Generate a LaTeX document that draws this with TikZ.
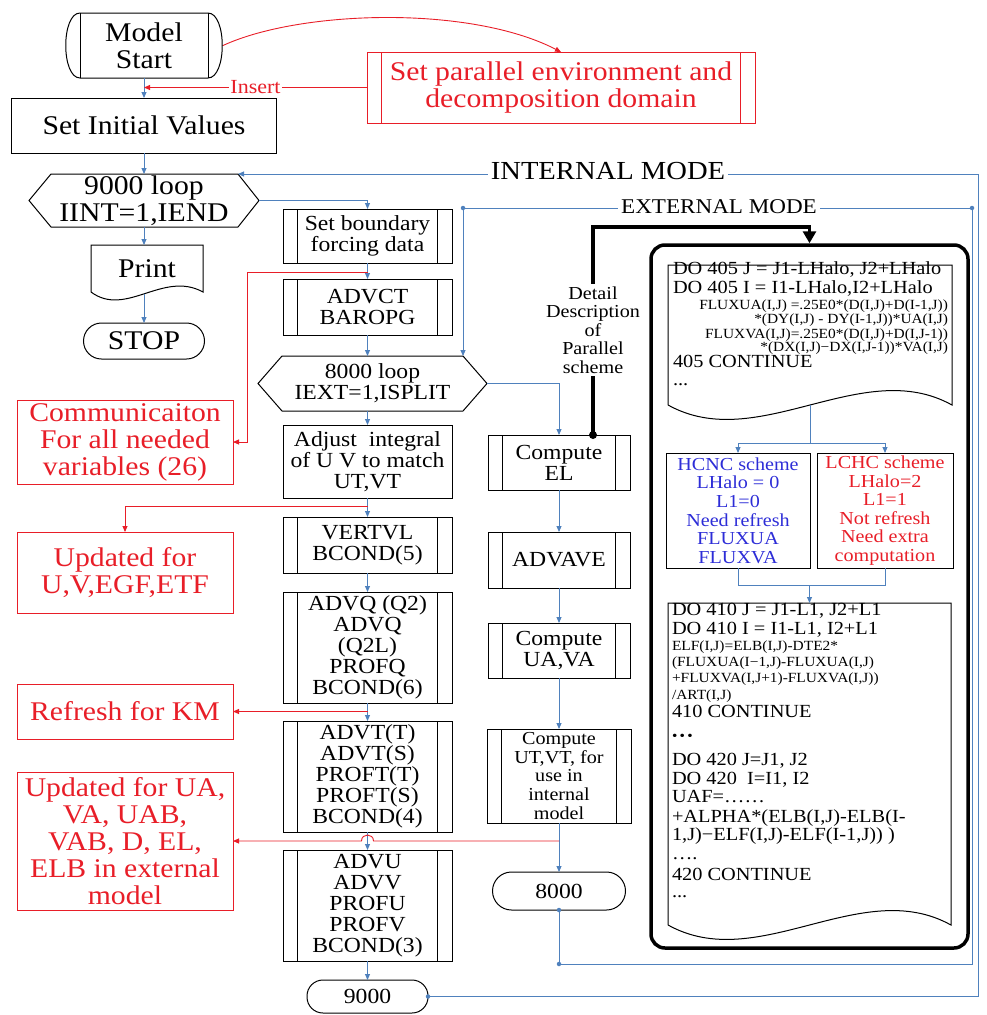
\documentclass[tikz,border=0pt]{standalone}
\usepackage{fontspec}
\setmainfont{Liberation Serif}[FakeStretch=1.1]
\usetikzlibrary{arrows.meta,calc}
\definecolor{lblue}{RGB}{79,129,189}
\definecolor{myred}{RGB}{232,30,40}
\definecolor{tblue}{RGB}{45,45,215}
\newcommand{\szA}{\fontsize{27}{27}\selectfont}
\newcommand{\szB}{\fontsize{21.5}{21}\selectfont}
\newcommand{\szC}{\fontsize{18.3}{18.6}\selectfont}
\newcommand{\szD}{\fontsize{18.5}{18.5}\selectfont}
\newcommand{\szE}{\fontsize{14}{14}\selectfont}
\newcommand{\szF}{\fontsize{20}{20}\selectfont}
\newcommand{\szG}{\fontsize{21}{21}\selectfont}
\newcommand{\szH}{\fontsize{26}{26}\selectfont}
\tikzset{
 txt/.style={align=center,inner sep=0pt,outer sep=0pt},
 box/.style={txt,draw,line width=1pt},
 pbox/.style={box,path picture={
   \draw[line width=1pt,draw=#1] ([xshift=14.5pt]path picture bounding box.north west) -- ([xshift=14.5pt]path picture bounding box.south west);
   \draw[line width=1pt,draw=#1] ([xshift=-14.5pt]path picture bounding box.north east) -- ([xshift=-14.5pt]path picture bounding box.south east);}},
 pbox/.default=black,
 term/.style={box,rounded corners=16pt},
 rbox/.style={txt,draw=myred,line width=1pt,text=myred,font=\szA},
 ln/.style={draw=lblue,line width=0.9pt},
 arr/.style={ln,-{Triangle[length=6pt,width=5pt]}},
 rln/.style={draw=myred,line width=0.9pt},
 rarr/.style={rln,-{Triangle[length=6pt,width=5pt]}},
 bdot/.style={circle,fill=lblue,inner sep=0pt,minimum size=4.5pt},
 code/.style={inner sep=0pt,outer sep=0pt,font=\szD},
 codes/.style={inner sep=0pt,outer sep=0pt,font=\szE},
}
\begin{document}
\begin{tikzpicture}[x=1pt,y=-1pt]
\useasboundingbox (0,0) rectangle (987,1015);

% ---------- left column ----------
\node[txt,font=\szA,minimum width=128pt,minimum height=65pt] (mstart) at (144,45.5) {Model\\Start};
\draw[line width=1pt] (mstart.north west) -- (mstart.north east)
  .. controls ($(mstart.north east)+(19,0)$) and ($(mstart.south east)+(19,0)$) .. (mstart.south east)
  -- (mstart.south west)
  .. controls ($(mstart.south west)+(-19,0)$) and ($(mstart.north west)+(-19,0)$) .. cycle;
\draw[line width=1pt] (mstart.north west) -- (mstart.south west) (mstart.north east) -- (mstart.south east);

\node[box,font=\szA,minimum width=265pt,minimum height=55pt] (setinit) at (144,125.5) {Set Initial Values};

\node[txt,font=\szA,minimum width=230pt,minimum height=53pt] (loop9) at (144,200.5) {9000 loop\\IINT=1,IEND};
\draw[line width=1pt] ([xshift=22pt]loop9.north west) -- ([xshift=-21pt]loop9.north east) -- (loop9.east)
  -- ([xshift=-21pt]loop9.south east) -- ([xshift=22pt]loop9.south west) -- (loop9.west) -- cycle;

\node[txt,font=\szA,minimum width=112pt,minimum height=47pt] (print) at (147,268.5) {Print};
\draw[line width=1pt] (print.south west) -- (print.north west) -- (print.north east) -- (print.south east)
  .. controls ($(print.south east)+(-40,-22)$) and ($(print.south west)+(35,26)$) .. (print.south west);
\coordinate (printb) at (144,294);

\node[term,font=\szA,minimum width=121pt,minimum height=36pt,rounded corners=18pt] (stop) at (144,341) {STOP};

% ---------- top red box ----------
\node[pbox=myred,rbox,minimum width=388pt,minimum height=71pt] (setpar) at (561,87.5) {Set parallel environment and\\decomposition domain};

% ---------- middle column ----------
\node[pbox,font=\szB,minimum width=169pt,minimum height=54pt] (setbnd) at (367.5,236) {Set boundary\\forcing data};
\node[pbox,font=\szB,minimum width=169pt,minimum height=56pt] (advct) at (367.5,307) {ADVCT\\BAROPG};
\node[txt,font=\szB,minimum width=229pt,minimum height=55pt] (loop8) at (372.5,383.5) {8000 loop\\IEXT=1,ISPLIT};
\draw[line width=1pt] ([xshift=24pt]loop8.north west) -- ([xshift=-24pt]loop8.north east) -- (loop8.east)
  -- ([xshift=-24pt]loop8.south east) -- ([xshift=24pt]loop8.south west) -- (loop8.west) -- cycle;
\node[box,font=\szB,minimum width=169pt,minimum height=73pt] (adjust) at (367.5,461.5) {Adjust\ \ integral\\of U V to match\\UT,VT};
\node[pbox,font=\szB,minimum width=169pt,minimum height=56pt] (vertvl) at (367.5,545) {VERTVL\\BCOND(5)};
\node[pbox,font=\szB,minimum width=169pt,minimum height=111pt] (advq) at (367.5,647.5) {ADVQ (Q2)\\ADVQ\\(Q2L)\\PROFQ\\BCOND(6)};
\node[pbox,font=\szB,minimum width=169pt,minimum height=111pt] (advt) at (367.5,776.5) {ADVT(T)\\ADVT(S)\\PROFT(T)\\PROFT(S)\\BCOND(4)};
\node[pbox,font=\szB,minimum width=169pt,minimum height=111pt] (advu) at (367.5,905.5) {ADVU\\ADVV\\PROFU\\PROFV\\BCOND(3)};
\node[term,font=\szB,minimum width=121pt,minimum height=33pt] (end9) at (367.5,996.5) {9000};

% ---------- right column ----------
\node[pbox,font=\szB,minimum width=142pt,minimum height=55pt] (computeel) at (559,462.5) {Compute\\EL};
\node[pbox,font=\szB,minimum width=142pt,minimum height=56pt] (advave) at (559,560) {ADVAVE};
\node[pbox,font=\szB,minimum width=142pt,minimum height=55pt] (uava) at (559,650.5) {Compute\\UA,VA};
\node[pbox,font=\szC,minimum width=144pt,minimum height=94pt] (utvt) at (559,776) {Compute\\UT,VT, for\\use in\\internal\\model};
\node[term,font=\szB,minimum width=133pt,minimum height=38pt,rounded corners=19pt] (end8) at (559,891) {8000};

% ---------- left red boxes ----------
\node[rbox,minimum width=216pt,minimum height=84pt] (comm) at (125,442) {Communicaiton\\For all needed\\variables (26)};
\node[rbox,minimum width=216pt,minimum height=81pt] (upd1) at (125,572.5) {Updated for\\U,V,EGF,ETF};
\node[rbox,minimum width=216pt,minimum height=55pt] (refresh) at (125,711.5) {Refresh for KM};
\node[rbox,minimum width=216pt,minimum height=138pt] (upd2) at (125,841) {Updated for UA,\\VA, UAB,\\VAB, D, EL,\\ELB in external\\model};

% ---------- big box ----------
\node[draw,line width=3.5pt,rounded corners=14pt,minimum width=317pt,minimum height=703pt,inner sep=0pt] (bigbox) at (809.5,596.5) {};

\node[txt,minimum width=284pt,minimum height=140pt] (doc1) at (810,335) {};
\draw[line width=1pt] (doc1.south west) -- (doc1.north west) -- (doc1.north east) -- (doc1.south east)
  .. controls ($(doc1.south east)+(-90,-50)$) and ($(doc1.south west)+(90,50)$) .. (doc1.south west);
\node[code,anchor=mid west] (a1) at (673,272) {DO 405 J = J1-LHalo, J2+LHalo};
\node[code,anchor=mid west] (a2) at (673,291) {DO 405 I = I1-LHalo,I2+LHalo};
\node[codes,anchor=mid east] (a3) at (948,307) {FLUXUA(I,J) =.25E0*(D(I,J)+D(I-1,J))};
\node[codes,anchor=mid east] (a4) at (948,321) {*(DY(I,J) - DY(I-1,J))*UA(I,J)};
\node[codes,anchor=mid east] (a5) at (948,336) {FLUXVA(I,J)=.25E0*(D(I,J)+D(I,J-1))};
\node[codes,anchor=mid east] (a6) at (948,349) {*(DX(I,J)−DX(I,J-1))*VA(I,J)};
\node[code,anchor=mid west] (a7) at (673,365) {405 CONTINUE};
\node[code,anchor=mid west] (a8) at (673,383) {...};

\node[box,font=\szC,text=tblue,minimum width=144pt,minimum height=115pt] (hcnc) at (738,510.5) {HCNC scheme\\LHalo = 0\\L1=0\\Need refresh\\FLUXUA\\FLUXVA};
\node[box,font=\szC,text=myred,minimum width=136pt,minimum height=115pt] (lchc) at (885,510.5) {LCHC scheme\\LHalo=2\\L1=1\\Not refresh\\Need extra\\computation};

\node[txt,minimum width=283pt,minimum height=322pt] (doc2) at (809.5,764) {};
\draw[line width=1pt] (doc2.south west) -- (doc2.north west) -- (doc2.north east) -- (doc2.south east)
  .. controls ($(doc2.south east)+(-90,-50)$) and ($(doc2.south west)+(90,50)$) .. (doc2.south west);
\node[code,anchor=mid west] (b1) at (672,613) {DO 410 J = J1-L1, J2+L1};
\node[code,anchor=mid west] (b2) at (672,632) {DO 410 I = I1-L1, I2+L1};
\node[codes,anchor=mid west] (b3) at (672,648) {ELF(I,J)=ELB(I,J)-DTE2*};
\node[codes,anchor=mid west] (b4) at (672,664) {(FLUXUA(I−1,J)-FLUXUA(I,J)};
\node[codes,anchor=mid west] (b5) at (672,680) {+FLUXVA(I,J+1)-FLUXVA(I,J))};
\node[codes,anchor=mid west] (b6) at (672,697) {/ART(I,J)};
\node[code,anchor=mid west] (b7) at (672,715) {410 CONTINUE};
\node[codes,anchor=mid west] (b8) at (672,738) {•\,•\,•};
\node[code,anchor=mid west] (b9) at (672,763) {DO 420 J=J1, J2};
\node[code,anchor=mid west] (b10) at (672,782) {DO 420\ \ I=I1, I2};
\node[code,anchor=mid west] (b11) at (672,800) {UAF=……};
\node[code,anchor=mid west] (b12) at (672,820) {+ALPHA*(ELB(I,J)-ELB(I-};
\node[code,anchor=mid west] (b13) at (672,838) {1,J)−ELF(I,J)-ELF(I-1,J)) )};
\node[code,anchor=mid west] (b14) at (672,857) {….};
\node[code,anchor=mid west] (b15) at (672,878) {420 CONTINUE};
\node[code,anchor=mid west] (b16) at (672,895) {...};

% ---------- connectors (blue) ----------
\draw[arr] (mstart.south) -- (setinit.north);
\draw[arr] (setinit.south) -- (loop9.north);
\draw[arr] (loop9.south) -- (loop9.south |- print.north);
\draw[arr] (printb) -- (stop.north);
\draw[arr] (loop9.east) -| (setbnd.north);
\draw[arr] (setbnd.south) -- (advct.north);
\draw[arr] (advct.south) -- (advct.south |- loop8.north);
\draw[arr] (adjust.north |- loop8.south) -- (adjust.north);
\draw[arr] (adjust.south) -- (vertvl.north);
\draw[arr] (vertvl.south) -- (advq.north);
\draw[arr] (advq.south) -- (advt.north);
\draw[arr] (advt.south) -- (advu.north);
\draw[arr] (advu.south) -- (end9.north);
\draw[arr] (loop8.east) -| (computeel.north);
\draw[arr] (computeel.south) -- (advave.north);
\draw[arr] (advave.south) -- (uava.north);
\draw[arr] (uava.south) -- (utvt.north);
\draw[arr] (utvt.south) -- (end8.north);

% external loop
\coordinate (l8tr) at ([xshift=-24pt]loop8.north east);
\coordinate (e1) at (559,964);
\coordinate (e2) at (972,964);
\coordinate (e3) at (972,208);
\coordinate (e4) at (l8tr |- e3);
\draw[arr] (end8.south) -- (e1) -- (e2) -- (e3) -- (e4) -- (l8tr);
\node[bdot] (dt1) at (end8.south) {};
\node[bdot] (dt2) at (e1) {};
\node[bdot] (dt3) at (e3) {};
\node[bdot] (dt4) at (e4) {};

% internal loop
\coordinate (l9tr) at ([xshift=-21pt]loop9.north east);
\coordinate (i1) at (978,996.5);
\coordinate (i2) at (978,174);
\draw[arr] (end9.east) -- (i1) -- (i2) -- (l9tr);
\node[bdot] (dt5) at (end9.east) {};

\node[txt,font=\szH,fill=white,inner xsep=3pt,inner ysep=1pt] (intlbl) at (608,171) {INTERNAL MODE};
\node[txt,font=\szG,fill=white,inner xsep=3pt,inner ysep=1pt] (extlbl) at (719,207) {EXTERNAL MODE};

% inside big box
\coordinate (d1b) at (810,405);
\coordinate (sp) at (810,443);
\draw[ln] (d1b) -- (sp);
\draw[arr] (sp) -| (hcnc.north);
\draw[arr] (sp) -| (lchc.north);
\coordinate (jn) at (809.5,585);
\draw[ln] (hcnc.south) |- (jn);
\draw[ln] (lchc.south) |- (jn);
\draw[arr] (jn) -- (doc2.north);

% ---------- red connectors ----------
\draw[rarr] (setpar.west) -- (setpar.west -| mstart.south)
  node[pos=.5,fill=white,text=myred,font=\szF,inner xsep=1pt,inner ysep=0pt] (ins) {Insert};
\draw[rarr] ([xshift=15pt]mstart.east) .. controls (300,10) and (470,5) .. (setpar.north);
\draw[rarr] (367.5,272) -- (247,272) |- (comm.east);
\draw[rarr] (367.5,506) -| (upd1.north);
\draw[rarr] (advq.south |- refresh.east) -- (refresh.east);
\draw[rarr] (utvt.south |- upd2.east) -- (373.5,841) .. controls (373.5,833) and (361.5,833) .. (361.5,841) -- (upd2.east);

% ---------- detail (thick black) ----------
\node[circle,fill=black,inner sep=0pt,minimum size=8pt] (eldot) at (593,435) {};
\draw[line width=3.5pt,-{Triangle[length=12pt,width=13pt]}] (eldot.center) -- (593,227) -| (bigbox.north);
\node[txt,font=\szC,fill=white,inner sep=2pt] (detail) at (593,330) {Detail\\Description\\of\\Parallel\\scheme};

\end{tikzpicture}
\end{document}
